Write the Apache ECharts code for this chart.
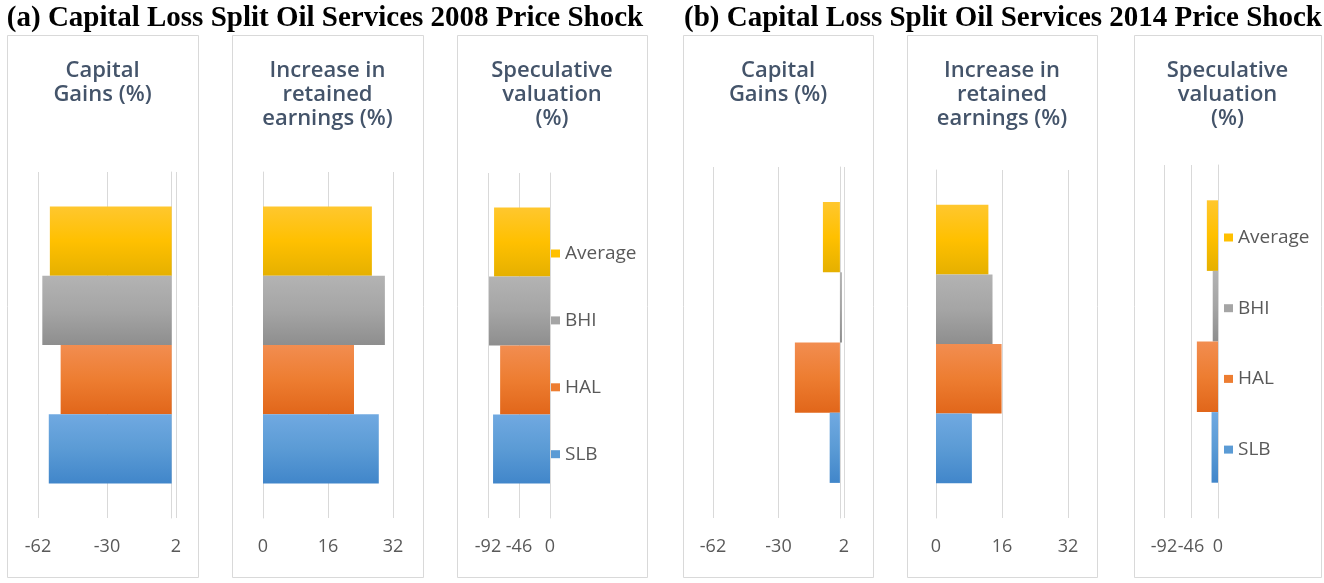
<!DOCTYPE html>
<html>
<head>
<meta charset="utf-8">
<script src="https://cdn.jsdelivr.net/npm/echarts@6/dist/echarts.min.js"></script>
<style>
  html, body { margin: 0; padding: 0; background: #fff; }
  #main { width: 1324px; height: 583px; }
</style>
</head>
<body>
<div id="main"></div>
<script>
// series names, drawn top to bottom
var names = ['Average', 'BHI', 'HAL', 'SLB'];

// (a) 2008 price shock
var gains2008 = [-56.5, -60, -51.5, -57];
var retained2008 = [26.8, 30, 22.4, 28.5];
var spec2008 = [-83, -90.5, -74, -84.5];

// (b) 2014 price shock
var gains2014 = [-8.3, 1, -22, -5];
var retained2014 = [12.7, 13.7, 15.9, 8.7];
var spec2014 = [-19, -9, -36, -11];

var panelTitles = ['Capital\nGains (%)', 'Increase in\nretained\nearnings (%)', 'Speculative\nvaluation\n(%)'];
var mainTitles = ['(a) Capital Loss Split Oil Services 2008 Price Shock', '(b) Capital Loss Split Oil Services 2014 Price Shock'];

var colors = {
    Average: ['#ffc72e', '#ffc000', '#e5b000'],
    BHI: ['#b3b3b3', '#a5a5a5', '#8e8e8e'],
    HAL: ['#f28d50', '#ed7d31', '#e1661a'],
    SLB: ['#70a9e1', '#5b9bd5', '#4186ca']
};
var flat = { Average: '#ffc000', BHI: '#a5a5a5', HAL: '#ed7d31', SLB: '#5b9bd5' };

var panels = [
    { data: gains2008, min: -62, max: 2, interval: 32, left: 38, width: 138, top: 172, box: [7, 191] },
    { data: retained2008, min: 0, max: 32, interval: 16, left: 263, width: 130, top: 172, box: [232, 191] },
    { data: spec2008, min: -92, max: 0, interval: 46, left: 488, width: 62, top: 173, box: [457, 190] },
    { data: gains2014, min: -62, max: 2, interval: 32, left: 713, width: 131, top: 167, box: [683, 190] },
    { data: retained2014, min: 0, max: 32, interval: 16, left: 936, width: 132, top: 170, box: [907, 190] },
    { data: spec2014, min: -92, max: 0, interval: 46, left: 1164, width: 54, top: 165, box: [1134, 187] }
];

var grids = [], xAxes = [], yAxes = [], series = [], titles = [], graphics = [];

panels.forEach(function (p, i) {
    grids.push({ left: p.left, width: p.width, top: p.top, bottom: 583 - 518 });
    xAxes.push({
        type: 'value', gridIndex: i, min: p.min, max: p.max, interval: p.interval,
        axisLine: { show: false }, axisTick: { show: false },
        axisLabel: { color: '#595959', fontSize: 18, fontFamily: 'Open Sans', margin: 20, hideOverlap: false },
        splitLine: { lineStyle: { color: '#d9d9d9', width: 1 } }
    });
    yAxes.push({
        type: 'category', gridIndex: i, data: ['v'],
        axisTick: { show: false }, axisLabel: { show: false },
        axisLine: { onZero: true, lineStyle: { color: '#d9d9d9' } }
    });
    names.forEach(function (n, k) {
        series.push({
            name: n, type: 'bar', xAxisIndex: i, yAxisIndex: i,
            barGap: 0, barCategoryGap: '20%',
            data: [p.data[k]],
            itemStyle: {
                color: new echarts.graphic.LinearGradient(0, 0, 0, 1, [
                    { offset: 0, color: colors[n][0] },
                    { offset: 0.5, color: colors[n][1] },
                    { offset: 1, color: colors[n][2] }
                ])
            },
            silent: true
        });
    });
    titles.push({
        text: panelTitles[i % 3],
        left: p.box[0] + p.box[1] / 2, top: 59, textAlign: 'center', padding: 0,
        textStyle: { color: '#44546a', fontSize: 22, fontWeight: 600, fontFamily: 'Open Sans', lineHeight: 24 }
    });
    graphics.push({
        type: 'rect', silent: true, z: -1,
        shape: { x: p.box[0] + 0.5, y: 35.5, width: p.box[1], height: 542 },
        style: { fill: '#fff', stroke: '#d9d9d9', lineWidth: 1 }
    });
});

titles.push({
    text: mainTitles[0], left: 325, top: 4, textAlign: 'center', padding: 0,
    textStyle: { color: '#000', fontSize: 29, fontWeight: 'bold', fontFamily: 'Liberation Serif' }
});
titles.push({
    text: mainTitles[1], left: 1003, top: 4, textAlign: 'center', padding: 0,
    textStyle: { color: '#000', fontSize: 29, fontWeight: 'bold', fontFamily: 'Liberation Serif' }
});

function legendAt(left, top, gap) {
    return {
        orient: 'vertical', left: left, top: top, itemGap: gap, padding: 0,
        itemWidth: 9, itemHeight: 8, icon: 'rect', selectedMode: false,
        textStyle: { color: '#595959', fontSize: 19, fontFamily: 'Open Sans', lineHeight: 16 },
        data: names.map(function (n) { return { name: n, itemStyle: { color: flat[n] } }; })
    };
}

var myChart = echarts.init(document.getElementById('main'));
myChart.setOption({
    animation: false,
    title: titles,
    graphic: graphics,
    legend: [legendAt(551, 244, 47.9), legendAt(1224, 228, 51.7)],
    grid: grids,
    xAxis: xAxes,
    yAxis: yAxes,
    series: series
});
</script>
</body>
</html>
